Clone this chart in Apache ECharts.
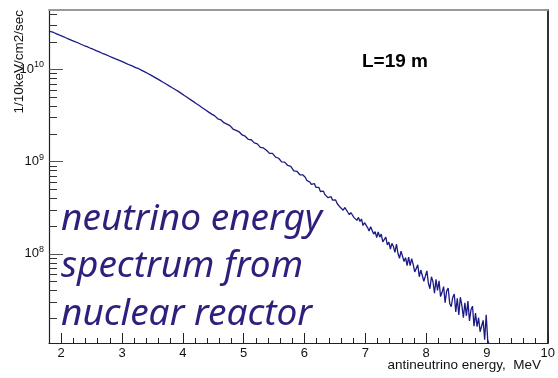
<!DOCTYPE html>
<html>
<head>
<meta charset="utf-8">
<script src="https://cdn.jsdelivr.net/npm/echarts@6/dist/echarts.min.js"></script>
<style>
  html, body { margin: 0; padding: 0; background: #fff; }
  #chart { width: 558px; height: 378px; }
</style>
</head>
<body>
<div id="chart"></div>
<script>
// Reactor antineutrino spectrum at L = 19 m.
// Low-energy part: 0.05 MeV bins from 1.80 MeV; high-energy part: 0.025 MeV bins from 6.00 MeV.
const lowStart = 1.8;
const lowWidth = 0.05;
const fluxLow = [
  2.60e10, 2.52e10, 2.44e10, 2.36e10, 2.29e10, 2.21e10, 2.14e10, 2.07e10, 2.01e10, 1.95e10,
  1.88e10, 1.82e10, 1.77e10, 1.71e10, 1.66e10, 1.60e10, 1.55e10, 1.50e10, 1.46e10, 1.41e10,
  1.36e10, 1.32e10, 1.28e10, 1.24e10, 1.20e10, 1.16e10, 1.12e10, 1.09e10, 1.05e10, 1.02e10,
  9.79e9, 9.44e9, 9.06e9, 8.69e9, 8.32e9, 7.96e9, 7.62e9, 7.28e9, 6.97e9, 6.65e9,
  6.35e9, 6.07e9, 5.79e9, 5.51e9, 5.22e9, 4.97e9, 4.71e9, 4.48e9, 4.25e9, 4.04e9,
  3.83e9, 3.64e9, 3.45e9, 3.28e9, 3.14e9, 2.92e9, 2.85e9, 2.65e9, 2.56e9, 2.46e9,
  2.26e9, 2.19e9, 2.11e9, 1.95e9, 1.89e9, 1.75e9, 1.73e9, 1.60e9, 1.56e9, 1.43e9,
  1.41e9, 1.33e9, 1.23e9, 1.23e9, 1.12e9, 1.09e9, 9.95e8, 9.91e8, 9.10e8, 8.91e8,
  7.96e8, 7.87e8, 7.21e8, 7.18e8
];
const highStart = 6.0;
const highWidth = 0.025;
const fluxHigh = [
  6.78e8, 6.28e8, 6.49e8, 6.03e8, 5.69e8, 5.86e8, 5.79e8, 5.28e8, 5.22e8, 5.26e8,
  4.75e8, 4.86e8, 4.79e8, 4.39e8, 4.42e8, 4.07e8, 4.24e8, 4.17e8, 3.83e8, 3.66e8,
  3.85e8, 3.52e8, 3.66e8, 3.20e8, 3.30e8, 2.98e8, 3.19e8, 3.19e8, 2.83e8, 2.67e8,
  2.81e8, 2.86e8, 2.49e8, 2.53e8, 2.31e8, 2.49e8, 2.25e8, 2.39e8, 2.03e8, 2.18e8,
  2.25e8, 1.93e8, 1.77e8, 1.97e8, 2.01e8, 1.64e8, 1.74e8, 1.50e8, 1.73e8, 1.52e8,
  1.64e8, 1.35e8, 1.40e8, 1.52e8, 1.25e8, 1.34e8, 1.13e8, 1.30e8, 1.20e8, 1.04e8,
  1.28e8, 1.01e8, 8.97e7, 1.07e8, 1.09e8, 8.26e7, 9.10e7, 7.45e7, 9.23e7, 7.45e7,
  8.87e7, 7.69e7, 6.37e7, 6.62e7, 7.60e7, 5.65e7, 6.68e7, 6.68e7, 5.05e7, 5.73e7,
  6.55e7, 4.80e7, 4.19e7, 5.65e7, 4.99e7, 3.74e7, 5.30e7, 4.02e7, 5.11e7, 3.44e7,
  3.83e7, 4.41e7, 2.96e7, 3.95e7, 4.26e7, 2.92e7, 2.67e7, 3.37e7, 3.67e7, 2.35e7,
  3.30e7, 2.17e7, 3.39e7, 2.77e7, 2.03e7, 2.95e7, 2.13e7, 3.07e7, 1.87e7, 2.48e7,
  2.71e7, 1.64e7, 2.28e7, 1.62e7, 2.03e7, 1.43e7, 1.37e7, 1.90e7, 1.17e7, 2.19e7,
  1.17e7, 1.02e7
];
// empty bins beyond the endpoint fall below the plotted range
const emptyLevel = 1e6;

// axis ranges and ticks
const xMin = 1.8, xMax = 10;
const xMajorTicks = [2, 3, 4, 5, 6, 7, 8, 9, 10];
const xMinorTicks = [1.8, 2.2, 2.4, 2.6, 2.8, 3.2, 3.4, 3.6, 3.8, 4.2, 4.4, 4.6, 4.8,
  5.2, 5.4, 5.6, 5.8, 6.2, 6.4, 6.6, 6.8, 7.2, 7.4, 7.6, 7.8, 8.2, 8.4, 8.6, 8.8,
  9.2, 9.4, 9.6, 9.8];
const yMin = 1.08e7, yMax = 4.42e10;
const yMajorTicks = [1e8, 1e9, 1e10];
const yMinorTicks = [2e7, 3e7, 4e7, 5e7, 6e7, 7e7, 8e7, 9e7,
  2e8, 3e8, 4e8, 5e8, 6e8, 7e8, 8e8, 9e8,
  2e9, 3e9, 4e9, 5e9, 6e9, 7e9, 8e9, 9e9,
  2e10, 3e10, 4e10];

// histogram outline: bin contents joined at bin centres (fine binning drawn as a polyline)
const points = [[lowStart, fluxLow[0]]];
fluxLow.forEach((v, i) => points.push([+(lowStart + (i + 0.5) * lowWidth).toFixed(4), v]));
fluxHigh.forEach((v, i) => points.push([+(highStart + (i + 0.5) * highWidth).toFixed(4), v]));
const lastEdge = +(highStart + fluxHigh.length * highWidth).toFixed(4);
points.push([lastEdge, fluxHigh[fluxHigh.length - 1]]);
points.push([lastEdge, emptyLevel]);

const FONT = '"Liberation Sans", Arial, sans-serif';
const AXIS_COLOR = '#222';
const NOTE_FONT = 'italic 37px "Noto Sans"';
const NOTE_COLOR = '#2e1f7d';

const chart = echarts.init(document.getElementById('chart'), null, { renderer: 'canvas' });

chart.setOption({
  animation: false,
  backgroundColor: '#fff',
  grid: { left: 49, right: 10, top: 10, bottom: 35, containLabel: false },
  xAxis: [
    {
      type: 'value', min: xMin, max: xMax, position: 'bottom',
      axisLine: { show: true, onZero: false, lineStyle: { color: AXIS_COLOR, width: 1.2 } },
      axisTick: { show: true, inside: true, length: 10, customValues: xMajorTicks, lineStyle: { color: AXIS_COLOR } },
      axisLabel: { show: true, customValues: xMajorTicks, margin: 4, fontFamily: FONT, fontSize: 13, color: '#111',
        showMinLabel: true, showMaxLabel: true },
      splitLine: { show: false }
    },
    {
      type: 'value', min: xMin, max: xMax, position: 'bottom',
      axisLine: { show: false, onZero: false },
      axisTick: { show: true, inside: true, length: 5, customValues: xMinorTicks, lineStyle: { color: AXIS_COLOR } },
      axisLabel: { show: false },
      splitLine: { show: false }
    },
    {
      type: 'value', min: xMin, max: xMax, position: 'top',
      axisLine: { show: true, onZero: false, lineStyle: { color: '#999', width: 2 } },
      axisTick: { show: false }, axisLabel: { show: false }, splitLine: { show: false }
    }
  ],
  yAxis: [
    {
      type: 'log', logBase: 10, min: yMin, max: yMax, position: 'left',
      axisLine: { show: true, onZero: false, lineStyle: { color: AXIS_COLOR, width: 1.2 } },
      axisTick: { show: true, inside: true, length: 14, customValues: yMajorTicks, lineStyle: { color: '#555' } },
      axisLabel: {
        show: true, customValues: yMajorTicks, margin: 5,
        formatter: v => '{b|10}{e|' + Math.round(Math.log10(v)) + '}',
        rich: {
          b: { fontFamily: FONT, fontSize: 13, color: '#111' },
          e: { fontFamily: FONT, fontSize: 9, color: '#111', padding: [0, 0, 9, 0] }
        }
      },
      splitLine: { show: false }
    },
    {
      type: 'log', logBase: 10, min: yMin, max: yMax, position: 'left',
      axisLine: { show: false, onZero: false },
      axisTick: { show: true, inside: true, length: 8, customValues: yMinorTicks, lineStyle: { color: '#333' } },
      axisLabel: { show: false },
      splitLine: { show: false }
    },
    {
      type: 'log', logBase: 10, min: yMin, max: yMax, position: 'right',
      axisLine: { show: true, onZero: false, lineStyle: { color: '#333', width: 2 } },
      axisTick: { show: false }, axisLabel: { show: false }, splitLine: { show: false }
    }
  ],
  series: [
    {
      type: 'line',
      xAxisIndex: 0, yAxisIndex: 0,
      data: points,
      showSymbol: false,
      clip: true,
      lineStyle: { color: '#1b1b85', width: 1.3 },
      silent: true
    }
  ],
  graphic: [
    {
      type: 'text', x: 19, y: 10, rotation: Math.PI / 2,
      style: { text: '1/10keV/cm2/sec', font: '13.5px ' + FONT, fill: '#111', align: 'right', verticalAlign: 'middle' }
    },
    {
      type: 'text', x: 541, y: 365,
      style: { text: 'antineutrino energy,  MeV', font: '13.5px ' + FONT, fill: '#111', align: 'right', verticalAlign: 'middle' }
    },
    {
      type: 'text', x: 362, y: 62,
      style: { text: 'L=19 m', font: 'bold 19px ' + FONT, fill: '#000', align: 'left', verticalAlign: 'middle' }
    },
    {
      type: 'text', x: 61, y: 238,
      style: { text: 'neutrino energy', font: NOTE_FONT, fill: NOTE_COLOR, align: 'left', verticalAlign: 'bottom' }
    },
    {
      type: 'text', x: 61, y: 285,
      style: { text: 'spectrum from', font: NOTE_FONT, fill: NOTE_COLOR, align: 'left', verticalAlign: 'bottom' }
    },
    {
      type: 'text', x: 61, y: 333,
      style: { text: 'nuclear reactor', font: NOTE_FONT, fill: NOTE_COLOR, align: 'left', verticalAlign: 'bottom' }
    }
  ]
});
</script>
</body>
</html>
